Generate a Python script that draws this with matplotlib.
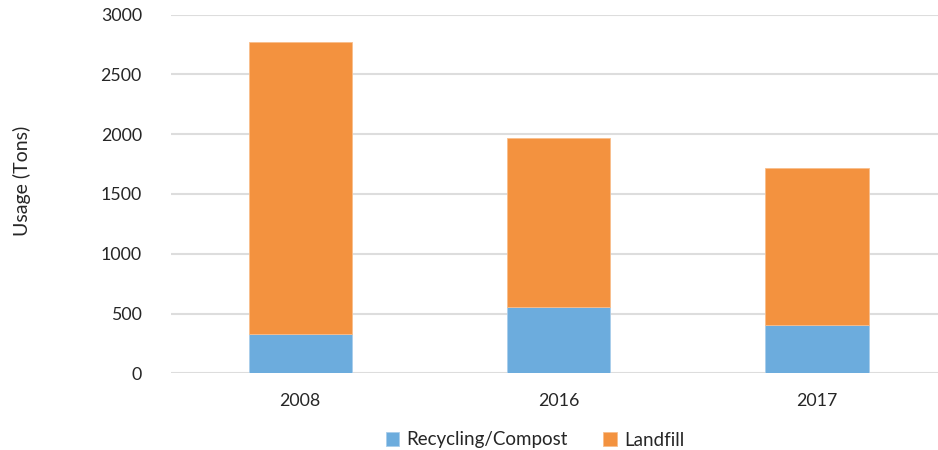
import matplotlib.pyplot as plt
import numpy as np

annees = ["2008", "2016", "2017"]
recyclage = [330, 555, 402]
decharge = [2440, 1415, 1318]

COULEUR_RECYCLAGE = "#6CACDD"
COULEUR_DECHARGE = "#F3923F"
COULEUR_GRILLE = "#DDDDDD"

plt.rcParams["font.family"] = ["Lato", "DejaVu Sans"]

fig = plt.figure(figsize=(9.38, 4.5), dpi=100)
ax = fig.add_axes([171 / 938, 1 - 373.3 / 450, 775 / 938, 358.6 / 450])

x = np.arange(len(annees))
ax.bar(x, recyclage, width=0.4, color=COULEUR_RECYCLAGE, edgecolor="#A9CDEB",
       linewidth=0.6, label="Recycling/Compost", zorder=3)
ax.bar(x, decharge, width=0.4, bottom=recyclage, color=COULEUR_DECHARGE,
       edgecolor="#F8BE8C", linewidth=0.6, label="Landfill", zorder=3)

ax.set_xlim(-0.5, 2.5)
ax.set_ylim(0, 3000)
ax.set_yticks(range(0, 3001, 500))
ax.set_xticks(x)
ax.set_xticklabels(annees)
ax.yaxis.grid(True, color=COULEUR_GRILLE, linewidth=1.5, zorder=0)
ax.set_axisbelow(True)
for cote in ["top", "right", "left", "bottom"]:
    ax.spines[cote].set_visible(False)
ax.tick_params(axis="both", length=0, labelsize=12.8, colors="#262626")
ax.tick_params(axis="y", pad=21)
ax.tick_params(axis="x", pad=14)

fig.text(22 / 938, 1 - 181 / 450, "Usage (Tons)", rotation=90, ha="center",
         va="center", fontsize=14, color="#262626")

leg = fig.legend(loc="center", bbox_to_anchor=(535 / 938, 1 - 440 / 450), ncol=2,
                 frameon=False, fontsize=13.5, handlelength=0.7, handleheight=0.7,
                 handletextpad=0.4, columnspacing=1.9)
for t in leg.get_texts():
    t.set_color("#262626")

fig.savefig("out.png", dpi=100)
